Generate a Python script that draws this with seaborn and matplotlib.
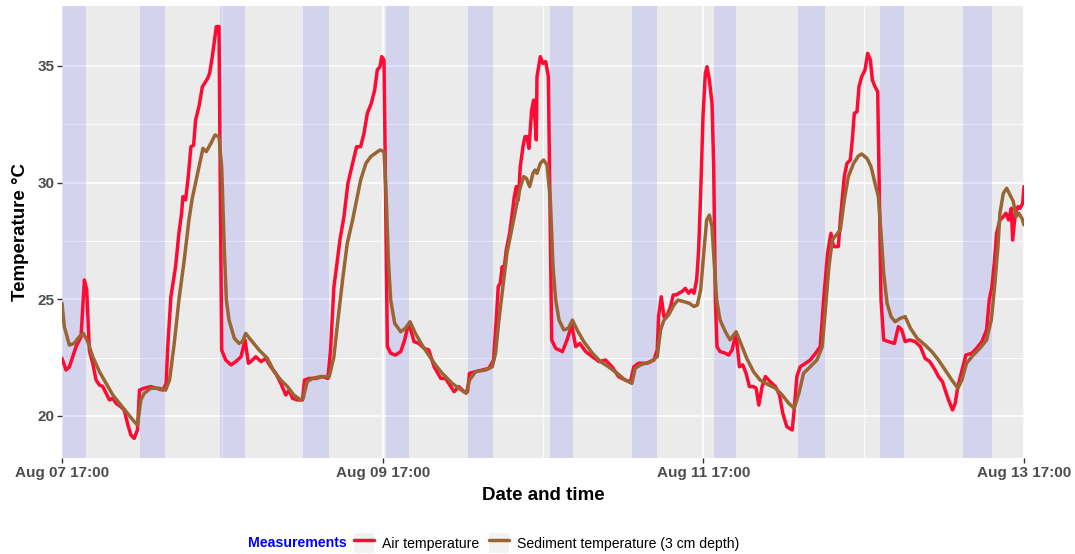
import numpy as np
import pandas as pd
import matplotlib
matplotlib.use("Agg")
import matplotlib.pyplot as plt
import matplotlib.dates as mdates
from matplotlib.ticker import FixedLocator
from matplotlib.lines import Line2D
from matplotlib.patches import Patch
from matplotlib.legend_handler import HandlerTuple
import seaborn as sns

# ---------------- data (hours after Aug 07 17:00, temperature in degC) ----------------
start_time = "2021-08-07 17:00"

air_hours = [0, 0.6, 1.1, 2.1, 2.85, 3.35, 3.7, 3.9, 4.1, 4.6, 5.1, 5.6, 6.1, 6.6, 7.1, 7.6, 8.1, 8.8, 9.3, 9.8,
             10.3, 10.8, 11.3, 11.6, 12.3, 13.3, 14.1, 15.1, 15.6, 15.8, 16.3, 17.0, 17.5, 17.9, 18.1, 18.5, 18.9,
             19.3, 19.7, 20.0, 20.5, 21.0, 21.8, 22.1, 22.5, 22.9, 23.1, 23.5, 23.9, 24.5, 25.3, 26.0, 26.8, 27.4,
             27.9, 28.26, 29.0, 29.8, 30.5, 31.25, 32.0, 32.75, 33.5, 34.0, 34.5, 35.2, 36.0, 36.3, 37.0, 38.0,
             39.0, 39.8, 40.2, 40.7, 41.1, 41.6, 42.2, 42.8, 43.5, 44.1, 44.7, 45.2, 45.7, 46.3, 46.8, 47.2, 47.6,
             47.85, 48.2, 48.7, 49.2, 49.9, 50.7, 51.3, 51.8, 52.2, 52.7, 53.4, 54.2, 54.9, 55.7, 56.7, 57.4,
             58.2, 58.7, 59.4, 60.2, 60.7, 61.0, 61.9, 62.9, 63.9, 64.6, 65.0, 65.3, 65.6, 65.9, 66.1, 66.5, 67.0,
             67.4, 67.7, 68.0, 68.3, 68.6, 69.0, 69.3, 69.6, 69.9, 70.3, 70.6, 71.0, 71.1, 71.6, 72.0, 72.4, 72.8,
             73.3, 73.9, 74.9, 75.6, 76.3, 76.9, 77.5, 78.4, 79.4, 80.4, 81.35, 82.35, 83.3, 84.3, 85.1, 85.6,
             86.3, 87.6, 88.6, 89.1, 89.3, 89.7, 90.1, 90.6, 91.1, 91.5, 92.0, 92.3, 92.8, 93.3, 93.8, 94.2, 94.6,
             95.0, 95.3, 95.65, 95.95, 96.3, 96.55, 96.9, 97.3, 97.55, 97.8, 98.05, 98.5, 99.3, 99.8, 100.3,
             100.9, 101.4, 101.9, 102.4, 102.9, 103.5, 103.9, 104.3, 104.8, 105.3, 106.0, 106.8, 107.4, 107.9,
             108.5, 109.3, 109.6, 110.0, 110.5, 111.3, 112.0, 112.8, 113.5, 114.0, 114.6, 115.1, 115.5, 116.2,
             116.6, 117.1, 117.5, 118.0, 118.3, 118.6, 119.0, 119.3, 119.7, 120.2, 120.6, 121.0, 121.3, 121.7,
             122.1, 122.6, 123.0, 123.7, 124.6, 125.2, 125.7, 126.2, 126.9, 127.7, 128.5, 129.2, 129.9, 130.7,
             131.2, 131.8, 132.2, 132.7, 133.3, 133.7, 134.1, 134.6, 135.3, 136.2, 136.9, 137.7, 138.4, 138.8,
             139.2, 139.6, 139.9, 140.4, 140.9, 141.3, 141.7, 142.1, 142.3, 142.7, 143.1, 143.4, 143.8, 144.0]
air_temp = [22.47, 21.97, 22.1, 22.97, 23.4, 25.83, 25.4, 24.1, 22.8, 22.26, 21.54, 21.33, 21.26, 20.97, 20.69,
            20.76, 20.54, 20.4, 20.26, 19.69, 19.19, 19.04, 19.4, 21.11, 21.19, 21.26, 21.19, 21.11, 21.4, 22.83,
            25.11, 26.4, 27.83, 28.69, 29.4, 29.26, 30.26, 31.54, 31.6, 32.69, 33.26, 34.1, 34.47, 34.69, 35.4,
            36.26, 36.69, 36.69, 22.83, 22.4, 22.19, 22.33, 22.54, 23.26, 22.26, 22.33, 22.54, 22.33, 22.47,
            22.11, 21.83, 21.4, 20.9, 21.11, 20.76, 20.69, 20.69, 21.54, 21.61, 21.61, 21.69, 21.61, 22.83, 25.54,
            26.4, 27.54, 28.54, 29.97, 30.83, 31.54, 31.54, 32.11, 32.97, 33.4, 33.97, 34.83, 34.97, 35.4, 35.26,
            22.97, 22.69, 22.61, 22.76, 23.26, 23.9, 23.69, 23.19, 23.11, 22.9, 22.83, 22.11, 21.61, 21.61,
            21.26, 21.04, 21.26, 21.04, 21.04, 21.83, 21.9, 21.97, 22.04, 22.4, 24.11, 25.54, 25.69, 26.4, 26.11,
            27.11, 27.83, 28.69, 29.4, 29.83, 29.26, 30.69, 31.54, 31.97, 31.97, 31.47, 33.11, 33.54, 31.83,
            34.54, 35.4, 35.11, 35.19, 34.54, 23.26, 22.9, 22.76, 23.26, 23.9, 22.97, 23.11, 22.76, 22.54, 22.33,
            22.4, 22.11, 21.69, 21.54, 21.47, 22.11, 22.26, 22.26, 22.4, 22.83, 24.26, 25.11, 24.26, 24.33,
            24.69, 25.19, 25.19, 25.26, 25.33, 25.47, 25.26, 25.4, 25.26, 25.83, 27.11, 29.97, 32.83, 34.69,
            34.97, 34.4, 33.4, 30.69, 24.97, 22.97, 22.76, 22.69, 22.61, 22.83, 23.54, 22.11, 22.19, 21.83,
            21.26, 21.26, 21.19, 20.47, 21.26, 21.69, 21.47, 21.26, 20.9, 20.11, 19.54, 19.4, 20.26, 21.69,
            22.11, 22.26, 22.4, 22.69, 22.97, 24.97, 26.97, 27.83, 27.26, 27.26, 28.69, 30.26, 30.83, 30.97,
            31.83, 32.97, 33.04, 34.11, 34.54, 34.83, 35.54, 35.26, 34.4, 34.11, 33.9, 24.97, 23.26, 23.19,
            23.11, 23.83, 23.69, 23.19, 23.26, 23.19, 22.97, 22.47, 22.33, 21.97, 21.69, 21.47, 21.11, 20.69,
            20.26, 20.54, 21.26, 21.83, 22.61, 22.69, 22.9, 23.19, 23.69, 24.97, 25.54, 26.69, 27.83, 28.4,
            28.54, 28.69, 28.4, 28.9, 27.54, 28.69, 28.97, 28.9, 29.11, 29.83]

sed_hours = [0, 0.35, 1.1, 1.8, 2.6, 3.2, 3.85, 4.6, 5.6, 6.6, 7.6, 8.6, 9.6, 10.6, 11.3, 11.8, 12.3, 13.3, 14.6,
             15.5, 16.1, 16.8, 17.5, 18.3, 19.0, 19.5, 20.3, 21.1, 21.6, 22.3, 22.9, 23.5, 23.9, 24.3, 24.6, 25.0,
             25.8, 26.5, 27.0, 27.5, 28.26, 29.5, 30.75, 31.75, 32.75, 33.75, 34.7, 35.7, 36.1, 36.7, 37.5, 38.7,
             40.0, 40.7, 41.3, 42.0, 42.7, 43.5, 44.1, 44.7, 45.5, 46.2, 46.9, 47.6, 48.2, 48.55, 48.85, 49.2,
             49.8, 50.7, 51.4, 52.1, 52.9, 53.9, 54.9, 55.9, 56.9, 57.4, 58.4, 59.4, 60.5, 61.0, 61.9, 63.4, 64.4,
             64.9, 65.4, 66.0, 66.6, 67.3, 67.9, 68.5, 69.1, 69.5, 70.0, 70.5, 70.8, 71.1, 71.6, 72.1, 72.6, 73.1,
             73.5, 73.9, 74.4, 75.1, 75.8, 76.4, 77.1, 78.1, 79.4, 80.6, 81.8, 83.1, 84.3, 85.3, 85.8, 86.6, 88.1,
             89.1, 89.6, 90.1, 90.8, 91.6, 92.2, 93.1, 93.9, 94.6, 95.1, 95.6, 96.1, 96.5, 96.9, 97.3, 97.6, 98.0,
             98.5, 99.3, 100.0, 100.9, 101.5, 102.5, 103.5, 104.5, 105.8, 106.8, 107.8, 108.8, 109.6, 110.3,
             111.0, 112.0, 113.0, 113.8, 114.3, 114.8, 115.3, 115.7, 116.5, 117.1, 117.7, 118.5, 119.2, 119.7,
             120.5, 121.1, 121.7, 122.2, 122.6, 123.0, 123.5, 124.1, 124.7, 125.5, 126.2, 127.0, 128.0, 129.2,
             130.2, 131.2, 132.2, 133.2, 134.1, 134.7, 135.4, 136.4, 137.4, 138.4, 139.1, 139.6, 140.1, 140.4,
             140.9, 141.4, 141.9, 142.4, 142.8, 143.2, 143.7, 144.0]
sed_temp = [24.83, 23.83, 23.04, 23.11, 23.4, 23.54, 23.19, 22.54, 21.9, 21.4, 20.9, 20.54, 20.19, 19.83, 19.61,
            20.69, 20.97, 21.19, 21.19, 21.11, 21.54, 23.11, 24.97, 26.69, 28.4, 29.33, 30.4, 31.47, 31.33, 31.69,
            32.04, 31.97, 30.69, 27.11, 24.97, 24.11, 23.33, 23.11, 23.19, 23.54, 23.26, 22.83, 22.47, 21.9,
            21.54, 21.26, 20.9, 20.69, 20.76, 21.47, 21.61, 21.69, 21.69, 22.54, 24.11, 25.83, 27.4, 28.4, 29.26,
            30.11, 30.83, 31.11, 31.26, 31.4, 31.33, 29.26, 26.69, 24.97, 23.97, 23.61, 23.76, 24.04, 23.54,
            23.04, 22.61, 22.19, 21.83, 21.69, 21.4, 21.19, 20.97, 21.54, 21.9, 21.97, 22.11, 22.69, 24.11, 25.54,
            26.97, 27.97, 28.83, 29.69, 30.26, 30.19, 29.83, 30.4, 30.54, 30.4, 30.83, 30.97, 30.76, 29.26, 26.4,
            24.97, 24.11, 23.69, 23.76, 24.11, 23.69, 23.19, 22.69, 22.33, 22.11, 21.83, 21.54, 21.4, 22.04,
            22.19, 22.33, 22.54, 23.69, 24.11, 24.33, 24.76, 24.97, 24.9, 24.83, 24.69, 24.76, 25.4, 27.11, 28.4,
            28.61, 28.11, 26.69, 24.97, 24.11, 23.61, 23.26, 23.61, 23.19, 22.47, 21.9, 21.54, 21.33, 21.19,
            20.9, 20.54, 20.33, 20.97, 21.83, 22.11, 22.4, 22.97, 24.69, 26.4, 27.54, 27.69, 27.97, 29.26, 30.26,
            30.83, 31.14, 31.23, 31.04, 30.69, 29.97, 29.4, 27.83, 26.11, 24.83, 24.26, 24.04, 24.19, 24.26,
            23.76, 23.33, 23.04, 22.76, 22.4, 21.97, 21.54, 21.19, 21.54, 22.26, 22.61, 22.9, 23.26, 24.11,
            25.54, 27.26, 28.69, 29.54, 29.76, 29.47, 29.19, 28.54, 28.69, 28.47, 28.19]

# shaded periods (hours after start)
band_start_h = [0.0, 11.66, 23.7, 36.1, 48.55, 60.8, 73.0, 85.3, 97.6, 110.2, 122.5, 134.9]
band_end_h = [3.6, 15.4, 27.4, 39.9, 51.9, 64.5, 76.5, 89.0, 100.9, 114.2, 126.0, 139.2]

series_names = ["Air temperature", "Sediment temperature (3 cm depth)"]
series_colors = ["#FF0A33", "#996633"]
major_tick_h = [0, 48, 96, 144]
minor_tick_h = [24, 72, 120]
y_major = [20, 25, 30, 35]
y_minor = [22.5, 27.5, 32.5]

# ---------------- build frame ----------------
t0 = pd.Timestamp(start_time)
def to_time(h):
    return t0 + pd.to_timedelta(np.asarray(h, dtype=float), unit="h")

df = pd.concat([
    pd.DataFrame({"time": to_time(air_hours), "temp": air_temp, "Measurements": series_names[0]}),
    pd.DataFrame({"time": to_time(sed_hours), "temp": sed_temp, "Measurements": series_names[1]}),
], ignore_index=True)

# ---------------- style ----------------
sns.set_theme(style="darkgrid")
plt.rcParams["font.family"] = ["Liberation Sans", "DejaVu Sans"]

fig = plt.figure(figsize=(10.75, 5.54), dpi=100)
ax = fig.add_axes([62 / 1075, 1 - 458 / 554, (1024 - 62) / 1075, (458 - 6) / 554])
ax.set_facecolor("#EBEBEB")
ax.set_axisbelow(True)

for s, e in zip(band_start_h, band_end_h):
    ax.axvspan(to_time([s])[0], to_time([e])[0], color="blue", alpha=0.1, lw=0, zorder=1)

sns.lineplot(data=df, x="time", y="temp", hue="Measurements", hue_order=series_names,
             palette=series_colors, estimator=None, lw=2.5, legend=False, ax=ax, zorder=3,
             solid_joinstyle="round")

ax.set_xlim(to_time([0])[0], to_time([144])[0])
ax.set_ylim(18.2, 37.57)

ax.xaxis.set_major_locator(FixedLocator(mdates.date2num(to_time(major_tick_h))))
ax.xaxis.set_minor_locator(FixedLocator(mdates.date2num(to_time(minor_tick_h))))
ax.xaxis.set_major_formatter(mdates.DateFormatter("%b %d %H:%M"))
ax.yaxis.set_major_locator(FixedLocator(y_major))
ax.yaxis.set_minor_locator(FixedLocator(y_minor))

ax.grid(which="major", color="white", lw=1.2)
ax.grid(which="minor", color="white", lw=0.6)
for sp in ax.spines.values():
    sp.set_visible(False)

ax.tick_params(which="major", length=3.5, width=1.0, color="#333333", pad=2,
               labelsize=11, labelcolor="#4D4D4D", bottom=True, left=True)
ax.tick_params(which="minor", length=0)
for lab in ax.get_xticklabels() + ax.get_yticklabels():
    lab.set_fontweight("bold")

ax.set_xlabel("Date and time", fontsize=13.5, fontweight="bold", color="black", labelpad=5)
ax.set_ylabel("Temperature \u00b0C", fontsize=13.5, fontweight="bold", color="black", labelpad=6)

# ---------------- legend ----------------
fig.text(248 / 1075, 1 - 543 / 554, "Measurements", color="blue", fontsize=10.2,
         fontweight="bold", ha="left", va="center")
handles = [(Patch(facecolor="#F2F2F2", edgecolor="none"), Line2D([], [], color=c, lw=2.5))
           for c in series_colors]
leg = fig.legend(handles, series_names, loc="center left", bbox_to_anchor=(354 / 1075, 1 - 543 / 554),
                 ncol=2, frameon=False, fontsize=10.1, handlelength=1.4, handleheight=1.8,
                 handletextpad=0.6, columnspacing=0.7, borderpad=0, borderaxespad=0,
                 handler_map={tuple: HandlerTuple(ndivide=1)})
for t in leg.get_texts():
    t.set_color("black")

fig.savefig("out.png", dpi=100)
